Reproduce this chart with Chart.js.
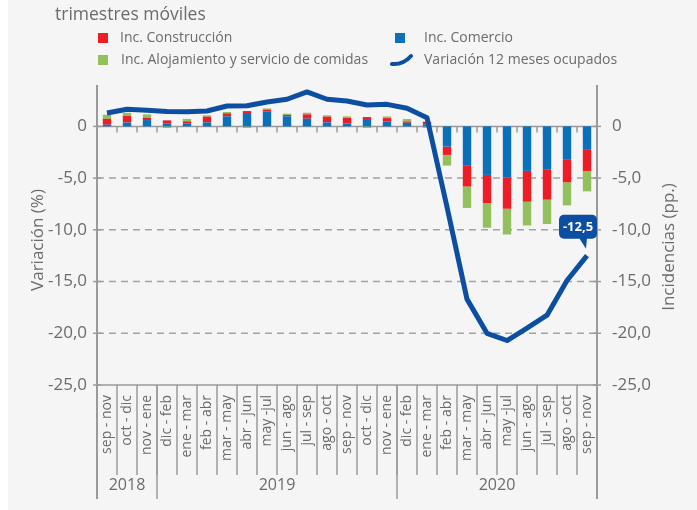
<!DOCTYPE html>
<html>
<head>
<meta charset="utf-8">
<script src="https://cdn.jsdelivr.net/npm/chart.js@4"></script>
<style>
  html, body { margin: 0; padding: 0; background: #fff; }
  #wrap { position: relative; width: 697px; height: 510px; background: #f5f5f5; margin-left: 0; overflow: hidden; }
  #strip { position: absolute; left: 0; top: 0; width: 8px; height: 510px; background: #fff; }
  canvas { position: absolute; left: 0; top: 0; }
  .txt { position: absolute; font-family: 'Open Sans', sans-serif; color: #6b6b6b; white-space: nowrap; line-height: 1; }
  .sub { left: 55px; top: 5px; font-size: 17.5px; }
  .lg { font-size: 14px; }
  .sq { position: absolute; width: 10px; height: 10px; }
</style>
</head>
<body>
<div id="wrap">
  <div id="strip"></div>
  <canvas id="chart" width="697" height="510"></canvas>
  <div class="txt sub">trimestres móviles</div>

  <div class="sq" style="left:98px; top:33px; background:#ee1c25"></div>
  <div class="txt lg" style="left:120px; top:30px">Inc. Construcción</div>
  <div class="sq" style="left:98px; top:55px; background:#93bf5c"></div>
  <div class="txt lg" style="left:121px; top:52px">Inc. Alojamiento y servicio de comidas</div>

  <div class="sq" style="left:395px; top:33px; background:#0a70bc"></div>
  <div class="txt lg" style="left:424px; top:30px">Inc. Comercio</div>
  <svg style="position:absolute; left:389px; top:53px" width="26" height="14">
    <path d="M3 11 Q 14 12 22 3" stroke="#0c4ea2" stroke-width="4" fill="none" stroke-linecap="round"/>
  </svg>
  <div class="txt lg" style="left:424px; top:52px">Variación 12 meses ocupados</div>
</div>

<script>
// Periodos (trimestres móviles)
const periodos = ["sep - nov", "oct - dic", "nov - ene", "dic - feb", "ene - mar", "feb - abr",
  "mar - may", "abr - jun", "may -jul", "jun - ago", "jul - sep", "ago - oct", "sep - nov",
  "oct - dic", "nov - ene", "dic - feb", "ene - mar", "feb - abr", "mar - may", "abr - jun",
  "may -jul", "jun - ago", "jul - sep", "ago - oct", "sep - nov"];

// años y cantidad de periodos en cada uno
const anios = ["2018", "2019", "2020"];
const periodosPorAnio = [3, 12, 10];

// incidencias (pp.)
const incComercio = [0.16, 0.37, 0.61, 0.26, 0.26, 0.39, 0.97, 1.29, 1.42, 0.97, 0.74, 0.39, 0.29,
  0.71, 0.48, 0.35, 0.2, -1.95, -3.81, -4.69, -4.95, -4.3, -4.14, -3.17, -2.27];
const incConstruccion = [0.57, 0.65, 0.23, 0.32, 0.23, 0.55, 0.29, 0.19, 0.19, 0.13, 0.42, 0.55, 0.52,
  0.19, 0.32, 0.13, 0.25, -0.81, -2.0, -2.72, -3.01, -2.98, -2.94, -2.23, -2.04];
const incAlojamiento = [0.4, 0.29, 0.32, -0.16, 0.23, 0.13, 0.13, -0.16, 0.13, 0.13, 0.16, 0.13, 0.16,
  -0.16, 0.16, 0.23, -0.15, -1.03, -2.07, -2.39, -2.49, -2.3, -2.36, -2.23, -1.97];

// variación 12 meses ocupados (%)
const variacion = [1.3, 1.65, 1.55, 1.45, 1.42, 1.49, 1.97, 2.0, 2.36, 2.62, 3.33, 2.62, 2.46,
  2.07, 2.13, 1.75, 0.84, -7.8, -16.7, -20.0, -20.7, -19.5, -18.25, -14.9, -12.5];

const lineasGuia = [-5, -10, -15, -20];

const gris = "#6b6b6b";
const grisLinea = "#9a9a9a";
const azulOscuro = "#0c4ea2";
Chart.defaults.font.family = "'Open Sans', sans-serif";

const fmt = v => v === 0 ? "0" : v.toFixed(1).replace(".", ",");

// Dibujo de ejes, rejilla, años y etiqueta final
const decor = {
  id: "decor",
  beforeDatasetsDraw(chart) {
    const { ctx, chartArea: a, scales: { x, y } } = chart;
    const seg = (x1, y1, x2, y2) => { ctx.beginPath(); ctx.moveTo(x1, y1); ctx.lineTo(x2, y2); ctx.stroke(); };
    ctx.save();
    ctx.strokeStyle = "#a3a3a3";
    ctx.lineWidth = 1.5;
    ctx.setLineDash([7, 5]);
    lineasGuia.forEach(v => {
      const py = y.getPixelForValue(v);
      seg(a.left, py, a.right, py);
    });
    ctx.setLineDash([]);
    ctx.strokeStyle = grisLinea;

    // bordes entre categorias
    const bordes = [a.left];
    for (let i = 1; i < periodos.length; i++) bordes.push((x.getPixelForValue(i - 1) + x.getPixelForValue(i)) / 2);
    bordes.push(a.right);

    // linea cero con marcas
    const y0 = y.getPixelForValue(0);
    seg(a.left, y0, a.right, y0);
    bordes.slice(1, -1).forEach(bx => seg(bx, y0, bx, y0 + 6));

    // eje inferior
    seg(a.left, a.bottom, a.right, a.bottom);
    bordes.slice(1, -1).forEach(bx => seg(bx, a.bottom, bx, a.bottom + 90));

    // ejes verticales
    ctx.lineWidth = 2;
    seg(a.left, a.top, a.left, a.bottom + 114);
    seg(a.right, a.top, a.right, a.bottom + 114);
    ctx.lineWidth = 1.5;
    y.ticks.forEach(t => {
      const py = y.getPixelForValue(t.value);
      seg(a.left - 4, py, a.left + 4, py);
      seg(a.right - 4, py, a.right + 4, py);
    });

    // separadores de años y etiquetas
    let idx = 0;
    ctx.fillStyle = gris;
    ctx.font = "16px 'Open Sans'";
    ctx.textAlign = "center";
    ctx.textBaseline = "middle";
    anios.forEach((anio, k) => {
      const x1 = bordes[idx];
      idx += periodosPorAnio[k];
      const x2 = bordes[idx];
      seg(x2, a.bottom, x2, a.bottom + 114);
      ctx.fillText(anio, (x1 + x2) / 2, a.bottom + 100);
    });

    // titulos de ejes
    ctx.font = "17px 'Open Sans'";
    ctx.save();
    ctx.translate(38, 240);
    ctx.rotate(-Math.PI / 2);
    ctx.fillText("Variación (%)", 0, 0);
    ctx.restore();
    ctx.save();
    ctx.translate(669, 247);
    ctx.rotate(-Math.PI / 2);
    ctx.fillText("Incidencias (pp.)", 0, 0);
    ctx.restore();
    ctx.restore();
  },
  afterDatasetsDraw(chart) {
    const { ctx } = chart;
    const meta = chart.getDatasetMeta(0);
    const last = meta.data[meta.data.length - 1];
    const cx = last.x - 9, bottom = last.y - 17;
    const w = 38, h = 24;
    ctx.save();
    ctx.fillStyle = azulOscuro;
    ctx.beginPath();
    ctx.roundRect(cx - w / 2, bottom - h, w, h, 5);
    ctx.fill();
    ctx.beginPath();
    ctx.moveTo(cx + 1, bottom - 1);
    ctx.lineTo(cx + 9, bottom - 1);
    ctx.lineTo(cx + 8, bottom + 10);
    ctx.closePath();
    ctx.fill();
    ctx.fillStyle = "#fff";
    ctx.font = "bold 13px 'Open Sans'";
    ctx.textAlign = "center";
    ctx.textBaseline = "middle";
    ctx.fillText(fmt(variacion[variacion.length - 1]), cx, bottom - h / 2 + 1);
    ctx.restore();
  }
};

const ejeY = (pos, ancho) => ({
  position: pos,
  min: -25,
  max: 4,
  ticks: { stepSize: 5, padding: pos === "left" ? 10 : 15, color: gris, font: { size: 17 }, callback: fmt },
  grid: { display: false, drawTicks: false },
  border: { display: false },
  afterBuildTicks: s => { s.ticks = s.ticks.filter(t => t.value <= 0); },
  afterFit: s => { s.width = ancho; }
});

new Chart(document.getElementById("chart"), {
  data: {
    labels: periodos,
    datasets: [
      { type: "line", label: "Variación 12 meses ocupados", data: variacion, yAxisID: "y",
        borderColor: azulOscuro, borderWidth: 5, pointRadius: 0, tension: 0,
        borderJoinStyle: "round", order: 0 },
      { type: "bar", label: "Inc. Comercio", data: incComercio, yAxisID: "y1",
        backgroundColor: "#0a70bc", barPercentage: 0.42, categoryPercentage: 1, order: 1 },
      { type: "bar", label: "Inc. Construcción", data: incConstruccion, yAxisID: "y1",
        backgroundColor: "#ee1c25", barPercentage: 0.42, categoryPercentage: 1, order: 1 },
      { type: "bar", label: "Inc. Alojamiento y servicio de comidas", data: incAlojamiento, yAxisID: "y1",
        backgroundColor: "#93bf5c", barPercentage: 0.42, categoryPercentage: 1, order: 1 }
    ]
  },
  options: {
    responsive: false,
    animation: false,
    devicePixelRatio: 1,
    layout: { padding: { top: 85 } },
    plugins: { legend: { display: false }, tooltip: { enabled: false } },
    scales: {
      x: {
        stacked: true,
        grid: { display: false, drawTicks: false },
        border: { display: false },
        ticks: { autoSkip: false, minRotation: 90, maxRotation: 90, padding: 10, color: gris, font: { size: 14 } },
        afterFit: s => { s.height = 125; }
      },
      y: ejeY("left", 97),
      y1: Object.assign(ejeY("right", 100), { stacked: true })
    }
  },
  plugins: [decor]
});
</script>
</body>
</html>
